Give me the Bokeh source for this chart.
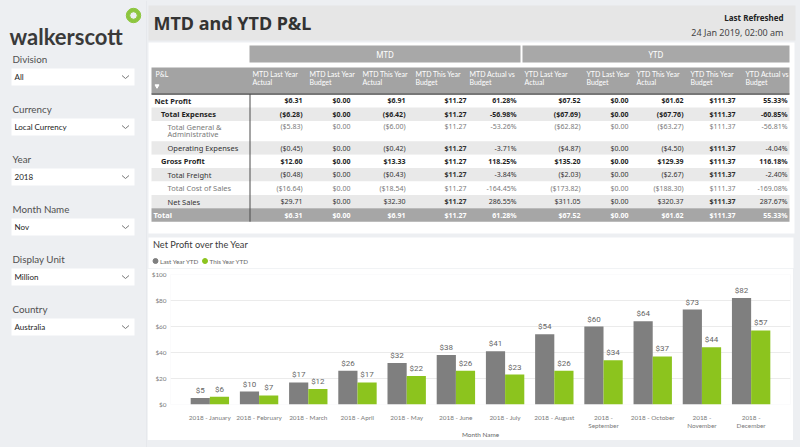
from bokeh.plotting import figure
from bokeh.layouts import row, column
from bokeh.models import Range1d, NumeralTickFormatter, ColumnDataSource, FixedTicker
from bokeh.core.properties import value
from bokeh.embed import file_html
from bokeh.resources import INLINE

# ---------------- data ----------------
filter_labels = ["Division", "Currency", "Year", "Month Name", "Display Unit", "Country"]
filter_values = ["All", "Local Currency", "2018", "Nov", "Million", "Australia"]

pl_rows = ["Net Profit", "Total Expenses", "Total General & Administrative",
           "Operating Expenses", "Gross Profit", "Total Freight",
           "Total Cost of Sales", "Net Sales", "Total"]
pl_level = [0, 1, 2, 2, 1, 2, 2, 2, 0]

col_headers = ["MTD Last Year Actual", "MTD Last Year Budget", "MTD This Year Actual",
               "MTD This Year Budget", "MTD Actual vs Budget",
               "YTD Last Year Actual", "YTD Last Year Budget", "YTD This Year Actual",
               "YTD This Year Budget", "YTD Actual vs Budget"]
col_kind = ["money", "money", "money", "money", "pct", "money", "money", "money", "money", "pct"]

mtd_ly_actual = [6.31, -6.28, -5.83, -0.45, 12.60, -0.48, -16.64, 29.71, 6.31]
mtd_ly_budget = [0.00, 0.00, 0.00, 0.00, 0.00, 0.00, 0.00, 0.00, 0.00]
mtd_ty_actual = [6.91, -6.42, -6.00, -0.42, 13.33, -0.43, -18.54, 32.30, 6.91]
mtd_ty_budget = [11.27, 11.27, 11.27, 11.27, 11.27, 11.27, 11.27, 11.27, 11.27]
mtd_act_vs_budget = [61.28, -56.98, -53.26, -3.71, 118.25, -3.84, -164.45, 286.55, 61.28]
ytd_ly_actual = [67.52, -67.69, -62.82, -4.87, 135.20, -2.03, -173.82, 311.05, 67.52]
ytd_ly_budget = [0.00, 0.00, 0.00, 0.00, 0.00, 0.00, 0.00, 0.00, 0.00]
ytd_ty_actual = [61.62, -67.76, -63.27, -4.50, 129.39, -2.67, -188.30, 320.37, 61.62]
ytd_ty_budget = [111.37, 111.37, 111.37, 111.37, 111.37, 111.37, 111.37, 111.37, 111.37]
ytd_act_vs_budget = [55.33, -60.85, -56.81, -4.04, 116.18, -2.40, -169.08, 287.67, 55.33]

months = ["2018 - January", "2018 - February", "2018 - March", "2018 - April",
          "2018 - May", "2018 - June", "2018 - July", "2018 - August",
          "2018 - September", "2018 - October", "2018 - November", "2018 - December"]
wrapped_months = ["2018 - September", "2018 - November", "2018 - December"]
last_year_ytd = [5, 10, 17, 26, 32, 38, 41, 54, 60, 64, 73, 82]
this_year_ytd = [6, 7, 12, 17, 22, 26, 23, 26, 34, 37, 44, 57]

# ---------------- styles ----------------
BG = "#EDEFF2"
FONT = value("Noto Sans")
LATO = value("Lato")
GRAY_BAR = "#7F7F7F"
GREEN = "#8CC41E"
HDR_GRAY = "#A3A3A3"

def money(v):
    return "${:,.2f}".format(v) if v >= 0 else "(${:,.2f})".format(-v)

def pct(v):
    return "{:.2f}%".format(v)

def no_align(f):
    try:
        f.frame_align = False
    except Exception:
        pass

def base_fig(w, h, x0, x1, y0, y1, bg):
    f = figure(width=w, height=h, x_range=Range1d(x0, x1), y_range=Range1d(y1, y0),
               output_backend="svg", toolbar_location=None, min_border=0,
               x_axis_location=None, y_axis_location=None)
    f.xgrid.visible = False
    f.ygrid.visible = False
    f.outline_line_color = None
    f.background_fill_color = bg
    f.border_fill_color = bg
    no_align(f)
    return f

# ---------------- sidebar ----------------
side = base_fig(147, 447, 0, 147, 0, 447, BG)
side.text(x=[9], y=[36], text=["walkerscott"], text_font=LATO, text_font_style="bold",
          text_font_size="22px", text_color="#3A3A3A", text_baseline="alphabetic")
side.annulus(x=[133], y=[15], inner_radius=3.8, outer_radius=7.2, color="#8DC63F")

n = len(filter_labels)
lab_y = [58 + 50 * i for i in range(n)]
box_top = [68 + 50 * i for i in range(n)]
side.text(x=[12] * n, y=lab_y, text=filter_labels, text_font=LATO, text_font_size="9.8px",
          text_color="#505050", text_baseline="middle")
side.quad(left=[11] * n, right=[134] * n, top=box_top, bottom=[t + 17 for t in box_top],
          fill_color="white", line_color=None)
side.text(x=[14] * n, y=[t + 8.5 for t in box_top], text=filter_values, text_font=LATO,
          text_font_size="8px", text_color="#222222", text_baseline="middle")
side.multi_line(xs=[[121.5, 125, 128.5]] * n,
                ys=[[t + 7, t + 10, t + 7] for t in box_top],
                line_color="#777777", line_width=1)
side.quad(left=[146], right=[147], top=[0], bottom=[447], fill_color="#E0E2E5", line_color=None)

# ---------------- header + table ----------------
top = base_fig(653, 268, 147, 800, 0, 268, BG)
top.quad(left=[148], right=[795], top=[5], bottom=[40], fill_color="#E6E6E6", line_color=None)
top.text(x=[153], y=[22.5], text=["MTD and YTD P&L"], text_font=FONT, text_font_style="bold",
         text_font_size="18px", text_color="#333333", text_baseline="middle")
top.text(x=[783], y=[17], text=["Last Refreshed"], text_font=FONT, text_font_style="bold",
         text_font_size="8px", text_color="#222222", text_baseline="middle", text_align="right")
top.text(x=[783], y=[31.5], text=["24 Jan 2019, 02:00 am"], text_font=FONT,
         text_font_size="9px", text_color="#444444", text_baseline="middle", text_align="right")

# panels
top.quad(left=[148, 148], right=[794, 793], top=[42, 237], bottom=[233, 270],
         fill_color="white", line_color=None)

# MTD / YTD bands
top.quad(left=[249, 522], right=[520, 789], top=[45, 45], bottom=[62, 62],
         fill_color="#A8A8A8", line_color=None)
top.text(x=[384.5, 655.5], y=[53.5, 53.5], text=["MTD", "YTD"], text_font=FONT,
         text_font_size="8px", text_color="white", text_align="center", text_baseline="middle")

# column header row
col_left = [252, 309, 362, 415, 469, 524, 586, 636, 690, 745]
col_right = [302, 350, 405, 466, 516, 580, 628, 683, 735, 787]
top.quad(left=[151], right=[789], top=[67], bottom=[93.6], fill_color=HDR_GRAY, line_color=None)
top.text(x=[155], y=[73.5], text=["P&L"], text_font=LATO, text_font_size="7px",
         text_color="white", text_baseline="middle")
top.scatter(x=[156.5], y=[85.5], marker="inverted_triangle", size=4, color="white")
hx, hy, ht = [], [], []
for cx, h in zip(col_left, col_headers):
    w = h.split(" ")
    hx += [cx, cx]
    hy += [73.5, 81.5]
    ht += [" ".join(w[:3]), " ".join(w[3:])]
top.text(x=hx, y=hy, text=ht, text_font=LATO, text_font_size="7px", text_color="white",
         text_baseline="middle")

# rows
row_lines = [2 if len(r) > 22 else 1 for r in pl_rows]
tops = []
yy = 93.6
for nl in row_lines:
    tops.append(yy)
    yy += 13.4 + 7 * (nl - 1)
bottoms = tops[1:] + [yy]
nrows = len(pl_rows)
band_col = []
for i in range(nrows):
    if i == nrows - 1:
        band_col.append("#A6A6A6")
    elif i % 2 == 1:
        band_col.append("#E9E9E9")
    else:
        band_col.append("white")
top.quad(left=[151] * nrows, right=[789] * nrows, top=tops, bottom=bottoms,
         fill_color=band_col, line_color=None)
top.segment(x0=[151], y0=[93.6], x1=[789], y1=[93.6], line_color="#4A4A4A", line_width=1.3)
top.segment(x0=[249.5], y0=[93.6], x1=[249.5], y1=[bottoms[-1]], line_color="#4A4A4A", line_width=1)

row_color = ["#1E1E1E", "#1E1E1E", "#7A7A7A", "#333333", "#1E1E1E", "#333333", "#7A7A7A", "#333333", "#FFFFFF"]
row_bold = [True, True, False, False, True, False, False, False, True]

lx, ly, lt, lc, lf = [], [], [], [], []
for i, name in enumerate(pl_rows):
    x = 154 + pl_level[i] * 6.5 if i < nrows - 1 else 153
    lines = name.replace("& ", "&\n").split("\n") if row_lines[i] == 2 else [name]
    for k, ln in enumerate(lines):
        lx.append(x)
        ly.append(tops[i] + 6.7 + 7.5 * k - (0.7 if row_lines[i] == 2 else 0))
        lt.append(ln)
        lc.append(row_color[i])
        lf.append("bold" if row_bold[i] else "normal")
top.text(x=lx, y=ly, text=lt, text_color=lc, text_font_style=lf, text_font=FONT,
         text_font_size="7.5px", text_baseline="middle")

columns = [mtd_ly_actual, mtd_ly_budget, mtd_ty_actual, mtd_ty_budget, mtd_act_vs_budget,
           ytd_ly_actual, ytd_ly_budget, ytd_ty_actual, ytd_ty_budget, ytd_act_vs_budget]
vx, vy, vt, vc, vf = [], [], [], [], []
for c, vals in enumerate(columns):
    for i, v in enumerate(vals):
        vx.append(col_right[c])
        vy.append(tops[i] + 6.7 - (0.7 if row_lines[i] == 2 else 0))
        vt.append(money(v) if col_kind[c] == "money" else pct(v))
        vc.append(row_color[i])
        is_budget = "This Year Budget" in col_headers[c]
        bold = row_bold[i] or (is_budget and row_color[i] != "#7A7A7A")
        vf.append("bold" if bold else "normal")
top.text(x=vx, y=vy, text=vt, text_color=vc, text_font_style=vf, text_font=FONT,
         text_font_size="7px", text_baseline="middle", text_align="right")

# chart title + legend (top strip of chart panel)
top.text(x=[152.5], y=[244], text=["Net Profit over the Year"], text_font=LATO,
         text_font_size="9.2px", text_color="#3A3A3A", text_baseline="middle")
top.scatter(x=[155, 204.5], y=[260.5, 260.5], marker="circle", size=5,
            color=[GRAY_BAR, GREEN])
top.text(x=[159.5, 209], y=[260.5, 260.5], text=["Last Year YTD", "This Year YTD"],
         text_font=LATO, text_font_size="6.3px", text_color="#666666", text_baseline="middle")

# ---------------- bar chart ----------------
idx = list(range(len(months)))
chart = figure(width=646, height=172, x_range=Range1d(-0.8, len(months) - 0.2),
               y_range=Range1d(0, 100), output_backend="svg", toolbar_location=None,
               min_border_left=23, min_border_right=3, min_border_top=6, min_border_bottom=34)
no_align(chart)
chart.background_fill_color = "white"
chart.border_fill_color = "white"
chart.outline_line_color = None

BW = 0.39
src = ColumnDataSource(dict(
    x_last=[i - BW / 2 for i in idx], x_this=[i + BW / 2 for i in idx],
    last=last_year_ytd, this=this_year_ytd,
    last_lbl=["${}".format(v) for v in last_year_ytd],
    this_lbl=["${}".format(v) for v in this_year_ytd]))
chart.vbar(x="x_last", top="last", width=BW, source=src, fill_color=GRAY_BAR, line_color=None)
chart.vbar(x="x_this", top="this", width=BW, source=src, fill_color=GREEN, line_color=None)
chart.text(x="x_last", y="last", text="last_lbl", source=src, text_align="center",
           text_baseline="bottom", y_offset=-3, text_font=value("Roboto"),
           text_font_size="8px", text_color="#666666")
chart.text(x="x_this", y="this", text="this_lbl", source=src, text_align="center",
           text_baseline="bottom", y_offset=-3, text_font=value("Roboto"),
           text_font_size="8px", text_color="#666666")

chart.xgrid.visible = False
chart.ygrid.grid_line_color = "#EBEBEB"
chart.ygrid.grid_line_width = 1

chart.yaxis.ticker = [0, 20, 40, 60, 80, 100]
chart.yaxis.formatter = NumeralTickFormatter(format="$0")
chart.xaxis.ticker = FixedTicker(ticks=idx)
chart.xaxis.major_label_overrides = {
    i: (m.replace(" - ", " -\n") if m in wrapped_months else m) for i, m in enumerate(months)}
for ax in (chart.xaxis, chart.yaxis):
    ax.axis_line_color = None
    ax.major_tick_line_color = None
    ax.minor_tick_line_color = None
    ax.major_tick_out = 0
    ax.major_tick_in = 0
    ax.minor_tick_out = 0
    ax.major_label_text_font = "Lato"
    ax.major_label_text_font_size = "6.4px"
    ax.major_label_text_color = "#7A7A7A"
chart.yaxis.major_label_standoff = 4
chart.xaxis.major_label_standoff = 9
chart.xaxis.major_label_orientation = "horizontal"
chart.xaxis.axis_label = "Month Name"
chart.xaxis.axis_label_standoff = -1
chart.xaxis.axis_label_text_font = "Lato"
chart.xaxis.axis_label_text_font_size = "6.4px"
chart.xaxis.axis_label_text_font_style = "normal"
chart.xaxis.axis_label_text_color = "#666666"

layout = row(side, column(top, chart, spacing=0), spacing=0)
try:
    from bokeh.models import GlobalInlineStyleSheet
    layout.stylesheets = [GlobalInlineStyleSheet(css="html,body{background:%s;}" % BG)]
except Exception:
    pass

open("out.html", "w").write(file_html(layout, INLINE))
